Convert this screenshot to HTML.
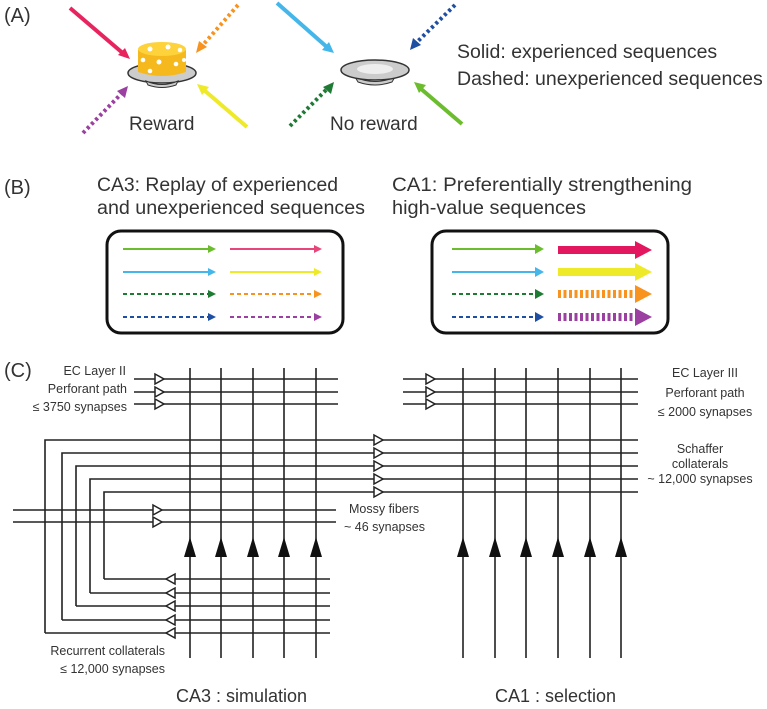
<!DOCTYPE html>
<html><head><meta charset="utf-8"><style>
html,body{margin:0;padding:0;background:#fff}
svg{display:block}
text{font-family:"Liberation Sans",sans-serif;fill:#333}
</style></head><body>
<svg width="767" height="709" viewBox="0 0 767 709" xmlns="http://www.w3.org/2000/svg">
<!-- Panel labels -->
<text x="4" y="22" font-size="20">(A)</text>
<text x="4" y="194" font-size="20">(B)</text>
<text x="4" y="377" font-size="20">(C)</text>

<!-- (A) reward -->
<g stroke-width="4" fill="none">
<line x1="70" y1="8" x2="125" y2="55" stroke="#e8245e"/>
<polygon points="130,59 118,55 125,48" fill="#e8245e" stroke="none"/>
<line x1="238" y1="5" x2="202" y2="46" stroke="#f7931e" stroke-dasharray="3,3"/>
<polygon points="196,53 199,41 207,47" fill="#f7931e" stroke="none"/>
<line x1="83" y1="133" x2="122" y2="93" stroke="#9b3fa0" stroke-dasharray="3,3"/>
<polygon points="128,86 125,98 117,91" fill="#9b3fa0" stroke="none"/>
<line x1="247" y1="127" x2="204" y2="90" stroke="#eeea2a"/>
<polygon points="197,84 209,87 202,95" fill="#eeea2a" stroke="none"/>
</g>
<ellipse cx="162" cy="73" rx="34" ry="10" fill="#ccc" stroke="#333" stroke-width="1.5"/>
<path d="M146,81 Q162,88 178,81 L176,85 Q162,90 148,85z" fill="#ccc" stroke="#333"/>
<path d="M138,50 L138,72 Q162,80 186,72 L186,50z" fill="#f5b91e"/>
<ellipse cx="162" cy="49" rx="24" ry="7" fill="#fdd23a"/>
<g fill="#fff"><circle cx="150" cy="49" r="2.5"/><circle cx="168" cy="47" r="2.5"/><circle cx="180" cy="50" r="2.3"/><circle cx="143" cy="60" r="2.3"/><circle cx="159" cy="62" r="2.5"/><circle cx="176" cy="64" r="2.3"/><circle cx="150" cy="71" r="2.3"/><circle cx="184" cy="60" r="2"/></g>
<text x="129" y="130" font-size="19">Reward</text>

<!-- (A) no reward -->
<g stroke-width="4" fill="none">
<line x1="277" y1="3" x2="328" y2="48" stroke="#45b6ea"/>
<polygon points="334,53 322,50 329,42" fill="#45b6ea" stroke="none"/>
<line x1="455" y1="5" x2="415" y2="44" stroke="#1f4fa3" stroke-dasharray="3,3"/>
<polygon points="410,50 413,38 421,45" fill="#1f4fa3" stroke="none"/>
<line x1="290" y1="126" x2="328" y2="88" stroke="#1e7b34" stroke-dasharray="3,3"/>
<polygon points="334,82 331,94 323,87" fill="#1e7b34" stroke="none"/>
<line x1="462" y1="124" x2="420" y2="88" stroke="#6bbd2e"/>
<polygon points="414,82 426,85 419,93" fill="#6bbd2e" stroke="none"/>
</g>
<path d="M355,77 Q375,86 395,77 L392,82 Q375,88 358,82z" fill="#ccc" stroke="#333"/>
<ellipse cx="375" cy="70" rx="34" ry="10" fill="#ccc" stroke="#333" stroke-width="1.5"/>
<ellipse cx="375" cy="69" rx="18" ry="5" fill="#eee"/>
<text x="330" y="130" font-size="19">No reward</text>
<text x="457" y="58" font-size="19.5">Solid: experienced sequences</text>
<text x="457" y="85" font-size="19.5">Dashed: unexperienced sequences</text>

<!-- (B) -->
<text x="97" y="191" font-size="19" textLength="241" lengthAdjust="spacingAndGlyphs">CA3: Replay of experienced</text>
<text x="97" y="214" font-size="19" textLength="268" lengthAdjust="spacingAndGlyphs">and unexperienced sequences</text>
<text x="392" y="191" font-size="19" textLength="300" lengthAdjust="spacingAndGlyphs">CA1: Preferentially strengthening</text>
<text x="392" y="214" font-size="19" textLength="194" lengthAdjust="spacingAndGlyphs">high-value sequences</text>
<rect x="107" y="231" width="236" height="102" rx="14" fill="none" stroke="#111" stroke-width="3"/>
<rect x="432" y="231" width="236" height="102" rx="14" fill="none" stroke="#111" stroke-width="3"/>
<g stroke-width="2" fill="none">
<line x1="123" y1="249" x2="210" y2="249" stroke="#6bbd2e"/><polygon points="216,249 208,245 208,253" fill="#6bbd2e" stroke="none"/>
<line x1="230" y1="249" x2="316" y2="249" stroke="#e8457a"/><polygon points="322,249 314,245 314,253" fill="#e8457a" stroke="none"/>
<line x1="123" y1="272" x2="210" y2="272" stroke="#45b6ea"/><polygon points="216,272 208,268 208,276" fill="#45b6ea" stroke="none"/>
<line x1="230" y1="272" x2="316" y2="272" stroke="#eeea2a"/><polygon points="322,272 314,268 314,276" fill="#eeea2a" stroke="none"/>
<line x1="123" y1="294" x2="210" y2="294" stroke="#1e7b34" stroke-dasharray="4,3"/><polygon points="216,294 208,290 208,298" fill="#1e7b34" stroke="none"/>
<line x1="230" y1="294" x2="316" y2="294" stroke="#f7931e" stroke-dasharray="4,3"/><polygon points="322,294 314,290 314,298" fill="#f7931e" stroke="none"/>
<line x1="123" y1="317" x2="210" y2="317" stroke="#1f4fa3" stroke-dasharray="4,3"/><polygon points="216,317 208,313 208,321" fill="#1f4fa3" stroke="none"/>
<line x1="230" y1="317" x2="316" y2="317" stroke="#9b3fa0" stroke-dasharray="4,3"/><polygon points="322,317 314,313 314,321" fill="#9b3fa0" stroke="none"/>

<line x1="452" y1="249" x2="536" y2="249" stroke="#6bbd2e"/><polygon points="544,249 535,244 535,254" fill="#6bbd2e" stroke="none"/>
<line x1="452" y1="272" x2="536" y2="272" stroke="#45b6ea"/><polygon points="544,272 535,267 535,277" fill="#45b6ea" stroke="none"/>
<line x1="452" y1="294" x2="536" y2="294" stroke="#1e7b34" stroke-dasharray="4,3"/><polygon points="544,294 535,289 535,299" fill="#1e7b34" stroke="none"/>
<line x1="452" y1="317" x2="536" y2="317" stroke="#1f4fa3" stroke-dasharray="4,3"/><polygon points="544,317 535,312 535,322" fill="#1f4fa3" stroke="none"/>

<line x1="558" y1="250" x2="636" y2="250" stroke="#e3175f" stroke-width="8"/><polygon points="652,250 635,241 635,259" fill="#e3175f" stroke="none"/>
<line x1="558" y1="272" x2="636" y2="272" stroke="#eeea2a" stroke-width="8"/><polygon points="652,272 635,263 635,281" fill="#eeea2a" stroke="none"/>
<line x1="558" y1="294" x2="636" y2="294" stroke="#f7931e" stroke-width="8" stroke-dasharray="3,2.5"/><polygon points="652,294 635,285 635,303" fill="#f7931e" stroke="none"/>
<line x1="558" y1="317" x2="636" y2="317" stroke="#9b3fa0" stroke-width="8" stroke-dasharray="3,2.5"/><polygon points="652,317 635,308 635,326" fill="#9b3fa0" stroke="none"/>
</g>

<!-- (C) network -->
<g stroke="#222" stroke-width="1.6" fill="none">
<line x1="134" y1="379" x2="338" y2="379"/><line x1="134" y1="392" x2="338" y2="392"/><line x1="134" y1="404" x2="338" y2="404"/>
<line x1="403" y1="379" x2="638" y2="379"/><line x1="403" y1="392" x2="638" y2="392"/><line x1="403" y1="404" x2="638" y2="404"/>
<path d="M45,633 V440 H638"/><path d="M62,620 V453 H638"/><path d="M76,606 V466 H638"/><path d="M90,593 V479 H638"/><path d="M104,579 V492 H638"/>
<line x1="104" y1="579" x2="330" y2="579"/><line x1="90" y1="593" x2="330" y2="593"/><line x1="76" y1="606" x2="330" y2="606"/><line x1="62" y1="620" x2="330" y2="620"/><line x1="45" y1="633" x2="330" y2="633"/>
<line x1="13" y1="510" x2="336" y2="510"/><line x1="13" y1="522" x2="336" y2="522"/>
<line x1="190" y1="368" x2="190" y2="658"/><line x1="221" y1="368" x2="221" y2="658"/><line x1="253" y1="368" x2="253" y2="658"/><line x1="284" y1="368" x2="284" y2="658"/><line x1="316" y1="368" x2="316" y2="658"/>
<line x1="463" y1="368" x2="463" y2="658"/><line x1="495" y1="368" x2="495" y2="658"/><line x1="526" y1="368" x2="526" y2="658"/><line x1="558" y1="368" x2="558" y2="658"/><line x1="590" y1="368" x2="590" y2="658"/><line x1="621" y1="368" x2="621" y2="658"/>
</g>
<g stroke="#222" stroke-width="1.5" fill="#fff">
<polygon points="155,374 164,379 155,384"/><polygon points="155,387 164,392 155,397"/><polygon points="155,399 164,404 155,409"/>
<polygon points="426,374 435,379 426,384"/><polygon points="426,387 435,392 426,397"/><polygon points="426,399 435,404 426,409"/>
<polygon points="374,435 383,440 374,445"/><polygon points="374,448 383,453 374,458"/><polygon points="374,461 383,466 374,471"/><polygon points="374,474 383,479 374,484"/><polygon points="374,487 383,492 374,497"/>
<polygon points="153,505 162,510 153,515"/><polygon points="153,517 162,522 153,527"/>
<polygon points="175,574 166,579 175,584"/><polygon points="175,588 166,593 175,598"/><polygon points="175,601 166,606 175,611"/><polygon points="175,615 166,620 175,625"/><polygon points="175,628 166,633 175,638"/>
</g>
<g fill="#111">
<polygon points="190,537 184,557 196,557"/><polygon points="221,537 215,557 227,557"/><polygon points="253,537 247,557 259,557"/><polygon points="284,537 278,557 290,557"/><polygon points="316,537 310,557 322,557"/>
<polygon points="463,537 457,557 469,557"/><polygon points="495,537 489,557 501,557"/><polygon points="526,537 520,557 532,557"/><polygon points="558,537 552,557 564,557"/><polygon points="590,537 584,557 596,557"/><polygon points="621,537 615,557 627,557"/>
</g>
<g font-size="12.5">
<text x="126" y="375" text-anchor="end">EC Layer II</text>
<text x="127" y="393" text-anchor="end">Perforant path</text>
<text x="127" y="411" text-anchor="end">≤ 3750 synapses</text>
<text x="705" y="377" text-anchor="middle">EC Layer III</text>
<text x="705" y="397" text-anchor="middle">Perforant path</text>
<text x="705" y="416" text-anchor="middle">≤ 2000 synapses</text>
<text x="700" y="453" text-anchor="middle">Schaffer</text>
<text x="700" y="468" text-anchor="middle">collaterals</text>
<text x="700" y="483" text-anchor="middle">~ 12,000 synapses</text>
<text x="349" y="513">Mossy fibers</text>
<text x="344" y="531">~ 46 synapses</text>
<text x="165" y="655" text-anchor="end">Recurrent collaterals</text>
<text x="165" y="673" text-anchor="end">≤ 12,000 synapses</text>
</g>
<text x="176" y="702" font-size="18">CA3 : simulation</text>
<text x="495" y="702" font-size="18">CA1 : selection</text>
</svg>
</body></html>
